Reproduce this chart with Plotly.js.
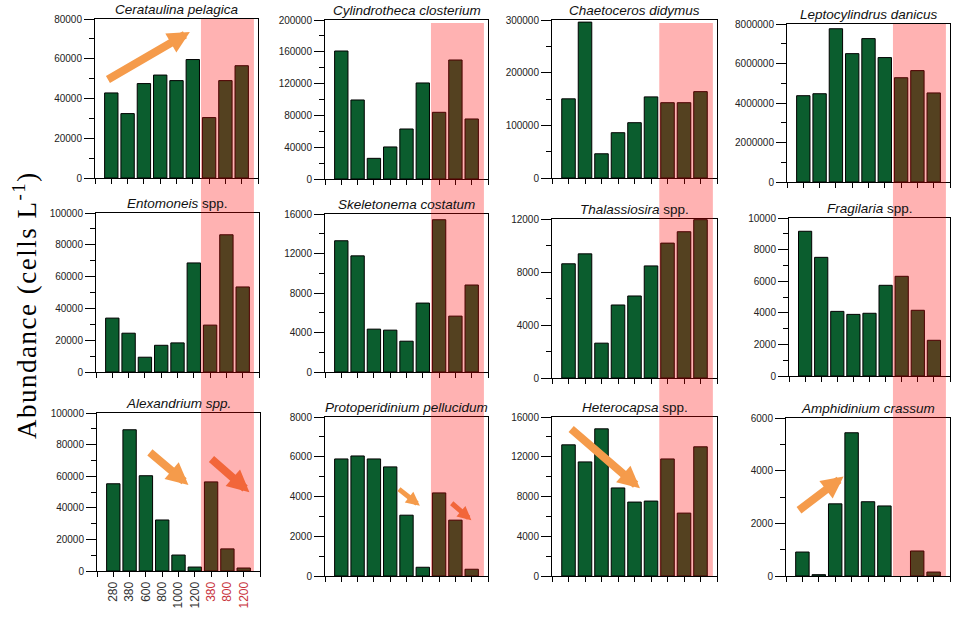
<!DOCTYPE html>
<html><head><meta charset="utf-8">
<script src="https://cdn.plot.ly/plotly-3.0.1.min.js"></script>
<style>html,body{margin:0;padding:0;background:#fff}#chart{width:957px;height:624px}</style>
</head><body><div id="chart"></div>
<script>
// ---- data ----
const depthLabels = ['280','380','600','800','1000','1200','380','800','1200'];
const speciesTitles = [
  '<i>Cerataulina pelagica</i>', '<i>Cylindrotheca closterium</i>', '<i>Chaetoceros didymus</i>', '<i>Leptocylindrus danicus</i>',
  '<i>Entomoneis</i> spp.', '<i>Skeletonema costatum</i>', '<i>Thalassiosira</i> spp.', '<i>Fragilaria</i> spp.',
  '<i>Alexandrium spp.</i>', '<i>Protoperidinium pellucidum</i>', '<i>Heterocapsa</i> spp.', '<i>Amphidinium crassum</i>'
];
const cerataulina     = [42800, 32400, 47500, 51800, 49000, 59600, 30400, 49000, 56500];
const cylindrotheca   = [161000, 99400, 26000, 40300, 62900, 120800, 83900, 149700, 75500];
const chaetoceros     = [150300, 296000, 46000, 86000, 105000, 154000, 143000, 143000, 164000];
const leptocylindrus  = [4370000, 4470000, 7760000, 6500000, 7260000, 6300000, 5280000, 5640000, 4510000];
const entomoneis      = [33900, 24400, 9300, 16800, 18300, 68600, 29500, 86300, 53500];
const skeletonema     = [13290, 11760, 4340, 4240, 3120, 6980, 15420, 5660, 8810];
const thalassiosira   = [8620, 9370, 2630, 5510, 6190, 8460, 10180, 11040, 11950];
const fragilaria      = [9160, 7510, 4090, 3900, 3970, 5740, 6310, 4160, 2260];
const alexandrium     = [55200, 89400, 60300, 32300, 10100, 2500, 56400, 14000, 1900];
const protoperidinium = [5890, 6040, 5890, 5490, 3060, 440, 4180, 2810, 340];
const heterocapsa     = [13200, 11480, 14810, 8860, 7440, 7540, 11780, 6330, 13000];
const amphidinium     = [910, 50, 2740, 5440, 2820, 2660, null, 950, 150];
const yMax   = [80000, 200000, 300000, 8000000, 100000, 16000, 12000, 10000, 100000, 8000, 16000, 6000];
const yMajor = [20000, 40000, 100000, 2000000, 20000, 4000, 4000, 2000, 20000, 2000, 4000, 2000];

const series = [cerataulina, cylindrotheca, chaetoceros, leptocylindrus, entomoneis, skeletonema,
                thalassiosira, fragilaria, alexandrium, protoperidinium, heterocapsa, amphidinium];

// ---- layout geometry (pixels) ----
const W = 957, H = 624;
const boxes = [
  [95,258,19,178],[325,488,20,179],[552,717,20,178],[787,950,24,182],
  [96,259,213,372],[325,488,214,372],[552,717,219,378],[789,950,218,376],
  [97,260,413,571],[325,488,417,576],[552,717,417,576],[786,950,418,576]
];
const positions = depthLabels.map((d,i)=>i+1);
const barColor = '#0B5D2E';

const data = [];
const layout = {
  width: W, height: H, margin: {l:0,r:0,t:0,b:0},
  paper_bgcolor: '#fff', plot_bgcolor: 'rgba(0,0,0,0)',
  showlegend: false, bargap: 0.18,
  font: {family: 'Liberation Sans, Arial, sans-serif', size: 10, color: '#222'},
  annotations: [], shapes: []
};

series.forEach((vals, i) => {
  const k = i === 0 ? '' : String(i+1);
  const b = boxes[i];
  data.push({
    type: 'bar', x: positions, y: vals, xaxis: 'x'+k, yaxis: 'y'+k, width: 0.82,
    marker: {color: barColor, line: {color: '#000', width: 1}}, hoverinfo: 'skip'
  });
  const isLabelled = (i === 8);
  layout['xaxis'+k] = {
    domain: [b[0]/W, b[1]/W], anchor: 'y'+k, range: [0,10],
    tickmode: 'array', tickvals: [0,1,2,3,4,5,6,7,8,9,10],
    ticktext: isLabelled ? [' '].concat(depthLabels.map((d,j)=> j>=6 ? '<span style="color:#C8323C">'+d+'</span>' : d)).concat([' ']) : [' ',' ',' ',' ',' ',' ',' ',' ',' ',' ',' '],
    tickangle: -90, tickfont: {size: 12, color: '#333'},
    ticks: 'outside', ticklen: 5, tickcolor: '#000',
    showline: true, linecolor: '#000', linewidth: 1, mirror: true,
    showgrid: false, zeroline: false, fixedrange: true
  };
  layout['yaxis'+k] = {
    domain: [1-b[3]/H, 1-b[2]/H], anchor: 'x'+k, range: [0, yMax[i]],
    tick0: 0, dtick: yMajor[i], tickformat: 'd',
    ticks: 'outside', ticklen: 10, tickcolor: '#000',
    minor: {dtick: yMajor[i]/2, tick0: 0, ticks: 'outside', ticklen: 5, tickcolor: '#000', showgrid: false},
    showline: true, linecolor: '#000', linewidth: 1, mirror: true,
    showgrid: false, zeroline: false, fixedrange: true, tickfont: {size: 10, color: '#222'}
  };
  layout.annotations.push({
    text: speciesTitles[i], xref: 'paper', yref: 'paper',
    x: (b[0]+b[1])/2/W, y: 1-b[2]/H, xanchor: 'center', yanchor: 'bottom', yshift: 0,
    showarrow: false, font: {family: 'Liberation Sans, Arial, sans-serif', size: 13.5, color: '#111'}
  });
});

// pink highlight bands (one per column)
const bandTops = [19,23,23,24], bandBottoms = [571,576,576,576];
['x','x2','x3','x4'].forEach((xr, c) => {
  layout.shapes.push({
    type: 'rect', layer: 'above', xref: xr, x0: 6.5, x1: 9.75,
    yref: 'paper', y0: 1-bandBottoms[c]/H, y1: 1-bandTops[c]/H,
    fillcolor: 'rgba(255,0,0,0.3)', line: {width: 0}
  });
});

// trend arrows
function arrow(k, x0, y0, x1, y1, color, w) {
  layout.annotations.push({
    text: ' ', xref: 'x'+k, yref: 'y'+k, axref: 'x'+k, ayref: 'y'+k,
    x: x1, y: y1, ax: x0, ay: y0, showarrow: true,
    arrowhead: 2, arrowsize: 0.55, arrowwidth: w, arrowcolor: color, standoff: 0, startstandoff: 0
  });
}
const orange = '#F59B4B', orangeInPink = '#F2663A';
arrow('', 0.61, 48700, 5.82, 73500, orange, 8);
arrow('9', 3.06, 76700, 5.61, 54500, orange, 8);
arrow('9', 6.84, 72500, 9.35, 49900, orangeInPink, 8);
arrow('10', 4.35, 4490, 5.82, 3540, orange, 5);
arrow('10', 7.59, 3790, 8.98, 2810, orangeInPink, 5);
arrow('11', 0.98, 15050, 5.33, 8820, orange, 8);
arrow('12', 0.61, 2410, 3.51, 3780, orange, 8);

// shared y label
layout.annotations.push({
  text: '<span style="letter-spacing:1.5px">Abundance (cells L<sup>-1</sup>)</span>', xref: 'paper', yref: 'paper',
  x: 25/W, y: 1-305/H, xanchor: 'center', yanchor: 'middle', textangle: -90, showarrow: false,
  font: {family: 'Liberation Serif, Times New Roman, serif', size: 27, color: '#000'}
});

Plotly.newPlot('chart', data, layout, {staticPlot: true, displayModeBar: false});
</script>
</body></html>
